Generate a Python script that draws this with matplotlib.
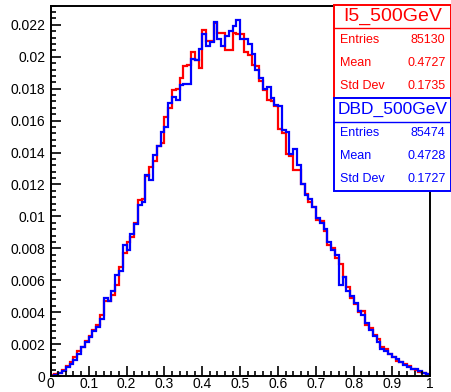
import numpy as np
import matplotlib
matplotlib.use("Agg")
import matplotlib.pyplot as plt
from matplotlib.patches import Rectangle
from matplotlib.ticker import MultipleLocator, FormatStrFormatter

plt.rcParams["font.family"] = ["Liberation Sans", "DejaVu Sans"]

# normalised bin contents, 100 bins on [0, 1]
bin_edges = np.linspace(0.0, 1.0, 101)

i5_500 = [
    0.00005, 0.0001, 0.0002, 0.0004, 0.0006, 0.0009, 0.0012, 0.00155, 0.0018, 0.0022,
    0.0025, 0.0029, 0.0032, 0.0038, 0.0047, 0.0047, 0.0051, 0.0057, 0.0068, 0.0077,
    0.0084, 0.0087, 0.0096, 0.0110, 0.0111, 0.0125, 0.0131, 0.0135, 0.0144, 0.0146,
    0.0162, 0.0168, 0.0179, 0.0180, 0.0187, 0.0194, 0.0195, 0.0203, 0.0198, 0.0193,
    0.02165, 0.0210, 0.0210, 0.0221, 0.0215, 0.0215, 0.0204, 0.0204, 0.0215, 0.0214,
    0.0214, 0.0203, 0.0201, 0.0195, 0.0194, 0.0185, 0.0179, 0.0173, 0.0172, 0.0169,
    0.0155, 0.0152, 0.0139, 0.0138, 0.0129, 0.0129, 0.0120, 0.0114, 0.0109, 0.0106,
    0.0098, 0.0097, 0.0091, 0.0082, 0.0080, 0.0074, 0.0070, 0.0062, 0.0056, 0.0049,
    0.0045, 0.0040, 0.0041, 0.0032, 0.0030, 0.0026, 0.0023, 0.0018, 0.0017, 0.0014,
    0.0012, 0.00095, 0.0009, 0.00075, 0.0006, 0.00045, 0.00035, 0.00028, 0.00018, 0.0001,
]

dbd_500 = [
    0.00003, 0.00008, 0.0002, 0.0003, 0.00055, 0.00077, 0.0010, 0.00136, 0.0018, 0.0021,
    0.00245, 0.0028, 0.0031, 0.0036, 0.0049, 0.0047, 0.0053, 0.0063, 0.0066, 0.0082,
    0.0079, 0.0089, 0.0095, 0.0107, 0.0109, 0.0126, 0.0123, 0.01386, 0.01438, 0.0153,
    0.01557, 0.0171, 0.0175, 0.0173, 0.01825, 0.0183, 0.0183, 0.01986, 0.01977, 0.0205,
    0.0214, 0.0207, 0.0209, 0.0222, 0.0211, 0.02065, 0.0213, 0.0216, 0.0219, 0.0223,
    0.0211, 0.0211, 0.0208, 0.0202, 0.0192, 0.01866, 0.0180, 0.0181, 0.0174, 0.0170,
    0.0169, 0.0154, 0.0153, 0.0139, 0.0142, 0.0132, 0.0120, 0.01135, 0.0111, 0.0106,
    0.0099, 0.0096, 0.0092, 0.0084, 0.0079, 0.0076, 0.0057, 0.0062, 0.0053, 0.0050,
    0.0046, 0.0041, 0.0038, 0.0033, 0.0029, 0.0025, 0.0021, 0.0017, 0.00155, 0.0014,
    0.0012, 0.00105, 0.00085, 0.0007, 0.00055, 0.00042, 0.00045, 0.0003, 0.0002, 0.0001,
]

# stats box contents
stat_labels = ["Entries", "Mean", "Std Dev"]
i5_stats = ["85130", "0.4727", "0.1735"]
dbd_stats = ["85474", "0.4728", "0.1727"]

W, H = 452, 392
fig = plt.figure(figsize=(W / 100, H / 100), dpi=100)


def fx(px):
    return px / W


def fy(py):
    return 1 - py / H


left, right, top, bottom = 50.7, 429.7, 5.7, 376.0
ax = fig.add_axes([fx(left), fy(bottom), fx(right - left), (bottom - top) / H])

ax.stairs(i5_500, bin_edges, color="#ff0000", lw=1.6, baseline=None)
ax.stairs(dbd_500, bin_edges, color="#0000ff", lw=1.6, baseline=None)

ax.set_xlim(0, 1)
ax.set_ylim(0, 0.0232)
ax.xaxis.set_major_locator(MultipleLocator(0.1))
ax.xaxis.set_minor_locator(MultipleLocator(0.02))
ax.yaxis.set_major_locator(MultipleLocator(0.002))
ax.yaxis.set_minor_locator(MultipleLocator(0.0004))
ax.xaxis.set_major_formatter(FormatStrFormatter("%g"))
ax.yaxis.set_major_formatter(FormatStrFormatter("%g"))
ax.tick_params(which="both", direction="in", labelsize=10, width=1.2,
               top=False, right=False)
ax.tick_params(which="major", length=7)
ax.tick_params(which="minor", length=3.5)
ax.tick_params(axis="x", pad=1)
ax.tick_params(axis="y", pad=4)
for s in ax.spines.values():
    s.set_linewidth(1.4)


def stats_box(y0, y1, ysep, title, title_size, values, color):
    x0, x1 = 334, 450.5
    fig.patches.append(Rectangle((fx(x0), fy(y1)), fx(x1 - x0), (y1 - y0) / H,
                                 transform=fig.transFigure, facecolor="white",
                                 edgecolor=color, lw=1.4, zorder=5))
    fig.lines.append(plt.Line2D([fx(x0), fx(x1)], [fy(ysep), fy(ysep)],
                                transform=fig.transFigure, color=color, lw=1.0,
                                zorder=6))
    fig.text(fx((x0 + x1) / 2), fy((y0 + ysep) / 2), title, color=color,
             fontsize=title_size, ha="center", va="center", zorder=7)
    row_h = (y1 - ysep) / 3
    for k, (lab, val) in enumerate(zip(stat_labels, values)):
        yc = ysep + row_h * (k + 0.5)
        fig.text(fx(340.5), fy(yc), lab, color=color, fontsize=9,
                 ha="left", va="center", zorder=7)
        fig.text(fx(445.5), fy(yc), val, color=color, fontsize=9,
                 ha="right", va="center", zorder=7)


stats_box(5.0, 97.7, 28.3, "I5_500GeV", 14, i5_stats, "#ff0000")
stats_box(97.7, 190.7, 121.5, "DBD_500GeV", 12.5, dbd_stats, "#0000ff")

fig.savefig("out.png", dpi=100)
